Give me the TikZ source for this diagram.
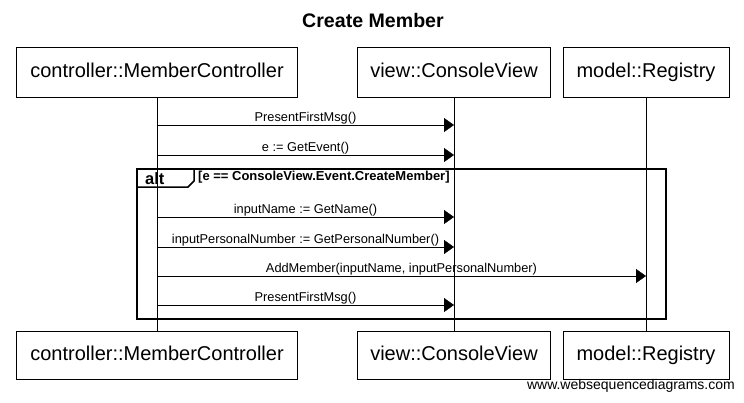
\documentclass[tikz,border=0pt]{standalone}
\usepackage{fontspec}
\setmainfont{Liberation Sans}
\usetikzlibrary{arrows.meta, positioning}
\tikzstyle{line} = [draw, -{Triangle[length=10pt,width=14pt]}]
\tikzstyle{msg} = [above, inner sep=1pt, font=\fontsize{12.8}{12.8}\selectfont]
\tikzstyle{actor} = [rectangle, draw, minimum height=50pt, inner sep=0pt, text height=14.5pt, text depth=4pt, font=\fontsize{20}{20}\selectfont]
\tikzstyle{frame} = [draw, line width=2pt]

\begin{document}
\begin{tikzpicture}[x=1pt, y=-1pt]
	\useasboundingbox (0,0) rectangle (744,402);
	
	\node [font=\bfseries\fontsize{19.6}{19.6}\selectfont] (title) at (373,20) {Create Member};
	
	\node [actor, minimum width=281pt] (ctrl) at (157,72) {controller::MemberController};
	\node [actor, minimum width=193pt] (view) at (454,72) {view::ConsoleView};
	\node [actor, minimum width=166pt] (model) at (646,72) {model::Registry};
	
	\node [actor, minimum width=281pt, minimum height=48pt] (ctrlB) at (157,355) {controller::MemberController};
	\node [actor, minimum width=193pt, minimum height=48pt] (viewB) at (454,355) {view::ConsoleView};
	\node [actor, minimum width=166pt, minimum height=48pt] (modelB) at (646,355) {model::Registry};
	
	\draw (ctrl.south) -- (ctrlB.north);
	\draw (view.south) -- (viewB.north);
	\draw (model.south) -- (modelB.north);
	
	% alt frame
	\coordinate (altNW) at (137,169);
	\coordinate (altSE) at (666,319);
	\draw [frame] (altNW) rectangle (altSE);
	\draw [line width=1.5pt] (altNW) -- ++(57,0) -- ++(0,12) -- ++(-6,6) -- ++(-51,0);
	\node [font=\bfseries\fontsize{16.5}{16.5}\selectfont, anchor=west, inner sep=0pt] (alt) at (145,178.5) {alt};
	\node [font=\bfseries\fontsize{13}{13}\selectfont, anchor=west, inner sep=0pt] (cond) at (198,177) {[e == ConsoleView.Event.CreateMember]};
	
	% messages
	\coordinate (m1) at (0,125);
	\coordinate (m2) at (0,155);
	\coordinate (m3) at (0,217);
	\coordinate (m4) at (0,247);
	\coordinate (m5) at (0,276);
	\coordinate (m6) at (0,305);
	
	\path [line] (ctrl |- m1) -- node [msg] {PresentFirstMsg()} (view |- m1);
	\path [line] (ctrl |- m2) -- node [msg] {e := GetEvent()} (view |- m2);
	\path [line] (ctrl |- m3) -- node [msg] {inputName := GetName()} (view |- m3);
	\path [line] (ctrl |- m4) -- node [msg] {inputPersonalNumber := GetPersonalNumber()} (view |- m4);
	\path [line] (ctrl |- m5) -- node [msg] {AddMember(inputName, inputPersonalNumber)} (model |- m5);
	\path [line] (ctrl |- m6) -- node [msg] {PresentFirstMsg()} (view |- m6);
	
	\node [anchor=east, inner sep=0pt, font=\fontsize{14}{14}\selectfont] (wsd) at (735,386) {www.websequencediagrams.com};
	
\end{tikzpicture}
\end{document}
